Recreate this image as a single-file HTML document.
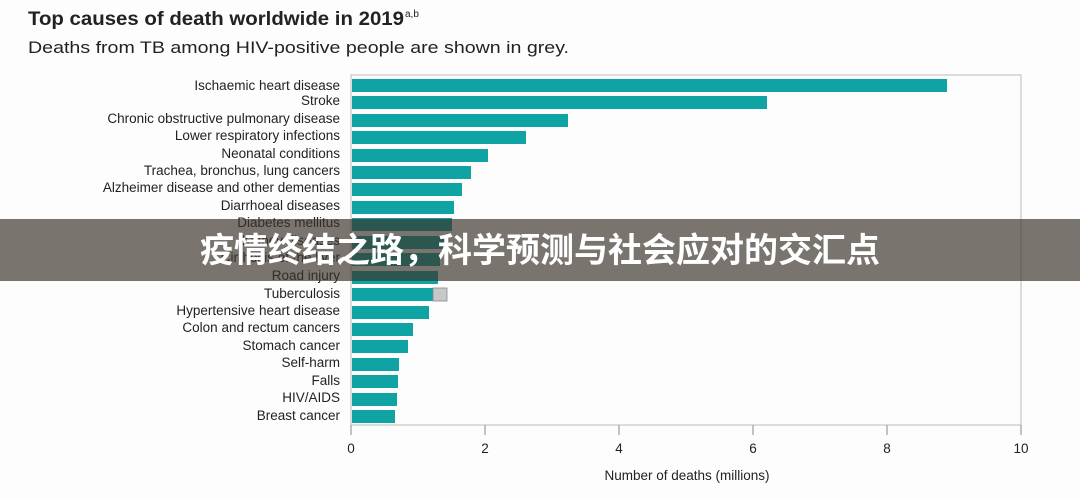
<!DOCTYPE html>
<html><head><meta charset="utf-8"><style>
html,body{margin:0;padding:0;background:#fff;}
svg{display:block;}
text{font-family:"Liberation Sans",sans-serif;fill:#222;}
</style></head><body>
<svg width="1080" height="501" viewBox="0 0 1080 501" xmlns="http://www.w3.org/2000/svg">
<rect width="1080" height="501" fill="#fdfdfd"/>
<text x="28" y="25" font-size="19" font-weight="bold" fill="#111" textLength="376" lengthAdjust="spacingAndGlyphs">Top causes of death worldwide in 2019</text>
<text x="405" y="17" font-size="10" fill="#111">a,b</text>
<text x="28" y="53" font-size="17" fill="#333" textLength="541" lengthAdjust="spacingAndGlyphs">Deaths from TB among HIV-positive people are shown in grey.</text>
<rect x="351" y="75" width="670" height="350" fill="none" stroke="#bbb" stroke-width="1"/>
<g fill="#0fa3a3">
<rect x="352" y="79" width="595" height="13"/>
<rect x="352" y="96" width="415" height="13"/>
<rect x="352" y="114" width="216" height="13"/>
<rect x="352" y="131" width="174" height="13"/>
<rect x="352" y="149" width="136" height="13"/>
<rect x="352" y="166" width="119" height="13"/>
<rect x="352" y="183" width="110" height="13"/>
<rect x="352" y="201" width="102" height="13"/>
<rect x="352" y="218" width="100" height="13"/>
<rect x="352" y="236" width="93" height="13"/>
<rect x="352" y="253" width="88" height="13"/>
<rect x="352" y="271" width="86" height="13"/>
<rect x="352" y="288" width="81" height="13"/>
<rect x="352" y="306" width="77" height="13"/>
<rect x="352" y="323" width="61" height="13"/>
<rect x="352" y="340" width="56" height="13"/>
<rect x="352" y="358" width="47" height="13"/>
<rect x="352" y="375" width="46" height="13"/>
<rect x="352" y="393" width="45" height="13"/>
<rect x="352" y="410" width="43" height="13"/>
</g>
<rect x="433" y="288" width="14" height="13" fill="#c8c8c8" stroke="#888" stroke-width="0.8"/>
<g font-size="13.5" text-anchor="end" fill="#333">
<text x="340" y="90">Ischaemic heart disease</text>
<text x="340" y="105">Stroke</text>
<text x="340" y="123">Chronic obstructive pulmonary disease</text>
<text x="340" y="140">Lower respiratory infections</text>
<text x="340" y="158">Neonatal conditions</text>
<text x="340" y="175">Trachea, bronchus, lung cancers</text>
<text x="340" y="192">Alzheimer disease and other dementias</text>
<text x="340" y="210">Diarrhoeal diseases</text>
<text x="340" y="227">Diabetes mellitus</text>
<text x="340" y="245">Kidney diseases</text>
<text x="340" y="262">Cirrhosis of the liver</text>
<text x="340" y="280">Road injury</text>
<text x="340" y="298">Tuberculosis</text>
<text x="340" y="315">Hypertensive heart disease</text>
<text x="340" y="332">Colon and rectum cancers</text>
<text x="340" y="350">Stomach cancer</text>
<text x="340" y="367">Self-harm</text>
<text x="340" y="385">Falls</text>
<text x="340" y="402">HIV/AIDS</text>
<text x="340" y="420">Breast cancer</text>
</g>
<g stroke="#888" stroke-width="1">
<line x1="351" y1="425" x2="351" y2="435"/><line x1="485" y1="425" x2="485" y2="435"/>
<line x1="619" y1="425" x2="619" y2="435"/><line x1="753" y1="425" x2="753" y2="435"/>
<line x1="887" y1="425" x2="887" y2="435"/><line x1="1021" y1="425" x2="1021" y2="435"/>
</g>
<g font-size="13.5" text-anchor="middle" fill="#333">
<text x="351" y="453">0</text><text x="485" y="453">2</text><text x="619" y="453">4</text>
<text x="753" y="453">6</text><text x="887" y="453">8</text><text x="1021" y="453">10</text>
<text x="687" y="480">Number of deaths (millions)</text>
</g>
<rect x="0" y="219" width="1080" height="62" fill="rgb(58,52,42)" fill-opacity="0.68"/>
<text x="540" y="262" font-size="34" font-weight="bold" text-anchor="middle" style="font-family:'Noto Sans CJK SC',sans-serif;fill:#fff">疫情终结之路，科学预测与社会应对的交汇点</text>
</svg>
</body></html>
